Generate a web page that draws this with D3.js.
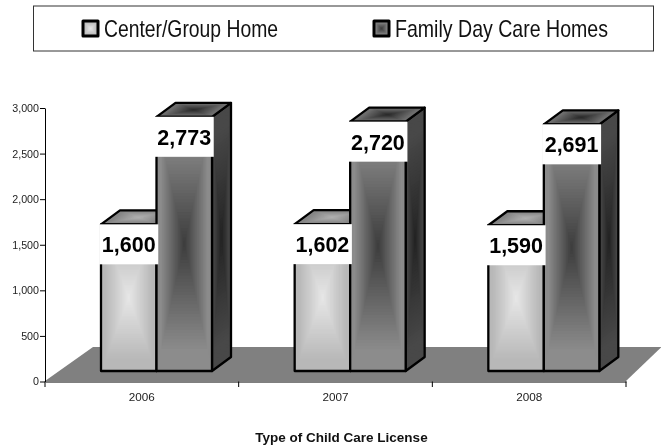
<!DOCTYPE html>
<html><head><meta charset="utf-8">
<script src="https://cdnjs.cloudflare.com/ajax/libs/d3/7.8.5/d3.min.js"></script>
<style>html,body{margin:0;padding:0;background:#fff}svg{display:block;filter:blur(0.35px)}text{font-family:"Liberation Sans",Arial,sans-serif}</style>
</head><body><svg id="c" width="661" height="446"></svg>
<script>
const years = ["2006","2007","2008"];
const seriesNames = ["Center/Group Home","Family Day Care Homes"];
const centerGroup = [1600,1602,1590];
const familyDayCare = [2773,2720,2691];
const yTicks = [0,500,1000,1500,2000,2500,3000];
const xTitle = "Type of Child Care License";

const svg = d3.select("#c");
const fmt = d3.format(",");
const x = d3.scaleBand().domain(years).range([45,626]);
const inner = d3.scaleBand().domain(seriesNames).range([56,167]);
const y = d3.scaleLinear().domain([0,3000]).range([381.5,108]);
const barY = d3.scaleLinear().domain([0,3000]).range([371,96]);
const DX=19, DY=14, STEPS=40;

// concentric "path gradient" over a polygon
function pathGrad(g, pts, outer, innerC, sw){
  const cx=d3.mean(pts,p=>p[0]), cy=d3.mean(pts,p=>p[1]);
  const col=d3.interpolateRgb(outer,innerC);
  const line=d3.line();
  g.selectAll(null).data(d3.range(STEPS)).join("path")
    .attr("d",i=>{const t=1-i/STEPS;return line(pts.map(p=>[cx+(p[0]-cx)*t,cy+(p[1]-cy)*t]))+"Z";})
    .attr("fill",i=>col(Math.max(0,(i/(STEPS-1)-0.15)/0.85)));
  g.append("path").attr("d",line(pts)+"Z").attr("fill","none").attr("stroke","#000").attr("stroke-width",sw||2.3).attr("stroke-linejoin","round");
}

// floor
svg.append("path").attr("d","M45,381L626,381L661,347.6L661,347L93,347Z").attr("fill","#808080");

// axes
const ax=svg.append("g").attr("transform","translate(45,0)").call(d3.axisLeft(y).tickValues(yTicks).tickFormat(fmt).tickSize(5).tickSizeOuter(0));
ax.select(".domain").attr("stroke","#000");
ax.selectAll("line").attr("stroke","#000");
ax.selectAll("text").attr("font-size",10.7).attr("fill","#222").attr("x",-6).style("font-family",'"Liberation Sans",Arial,sans-serif');
const bx=svg.append("g").attr("transform","translate(0,381.5)").call(d3.axisBottom(x).tickSize(0).tickSizeOuter(0));
bx.select(".domain").attr("stroke","#000");
bx.selectAll("text").attr("font-size",11.7).attr("fill","#222").attr("y",11).style("font-family",'"Liberation Sans",Arial,sans-serif');
svg.append("g").selectAll("line").data(years.concat(["end"])).join("line")
  .attr("x1",(d,i)=>x.range()[0]+i*x.step()).attr("x2",(d,i)=>x.range()[0]+i*x.step())
  .attr("y1",381.5).attr("y2",387).attr("stroke","#000");

const styles=[
 {front:["#b8b8b8","#e6e6e6"],top:["#858585","#b0b0b0"],side:["#555","#333"]},
 {front:["#8c8c8c","#3e3e3e"],top:["#6e6e6e","#2a2a2a"],side:["#484848","#242424"]}
];
const seriesVals=[centerGroup,familyDayCare];
seriesNames.forEach((name,s)=>{
  years.forEach((yr,i)=>{
    const g=svg.append("g");
    const x0=x(yr)+inner(name), x1=x0+inner.bandwidth(), yb=barY(0), yt=barY(seriesVals[s][i]);
    pathGrad(g.append("g"),[[x1,yb],[x1+DX,yb-DY],[x1+DX,yt-DY],[x1,yt]],styles[s].side[0],styles[s].side[1]);
    pathGrad(g.append("g"),[[x0,yt],[x1,yt],[x1+DX,yt-DY],[x0+DX,yt-DY]],styles[s].top[0],styles[s].top[1]);
    pathGrad(g.append("g"),[[x0,yb],[x1,yb],[x1,yt],[x0,yt]],styles[s].front[0],styles[s].front[1]);
  });
});
// value labels
seriesNames.forEach((name,s)=>{
  years.forEach((yr,i)=>{
    const v=seriesVals[s][i], cx=x(yr)+inner(name)+inner.bandwidth()/2, yt=barY(v);
    svg.append("rect").attr("x",cx-29.5).attr("y",yt).attr("width",59).attr("height",40).attr("fill","#fff");
    svg.append("text").attr("x",cx).attr("y",yt+28).attr("text-anchor","middle")
      .attr("font-size",21.5).attr("font-weight","bold").attr("fill","#000").text(fmt(v));
  });
});
// title
svg.append("text").attr("x",341.5).attr("y",441.5).attr("text-anchor","middle").attr("font-size",13.5).attr("font-weight","bold").attr("fill","#111").text(xTitle);

// legend
svg.append("rect").attr("x",33.5).attr("y",6).attr("width",620).attr("height",45).attr("fill","#fff").attr("stroke","#333").attr("stroke-width",1);
const legX=[83,374], legTextX=[104,395], legTextW=[174,213];
seriesNames.forEach((name,s)=>{
  const lx=legX[s];
  pathGrad(svg.append("g"),[[lx,21],[lx+15,21],[lx+15,36],[lx,36]],styles[s].front[0],styles[s].front[1],3);
  svg.append("text").attr("x",legTextX[s]).attr("y",37.3).attr("font-size",24).attr("fill","#111")
    .attr("textLength",legTextW[s]).attr("lengthAdjust","spacingAndGlyphs").text(name);
});
</script></body></html>
